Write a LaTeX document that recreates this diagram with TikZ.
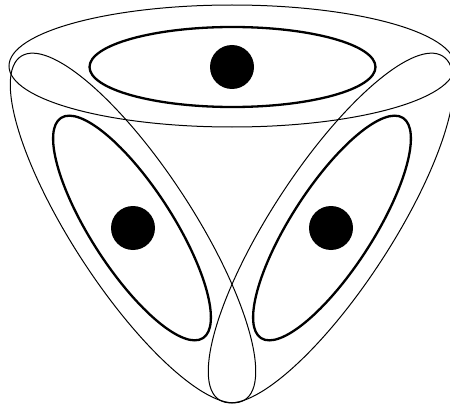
\documentclass[tikz,border=0pt]{standalone}
\begin{document}
\begin{tikzpicture}[x=1pt,y=1pt,
  thinedge/.style={line width=1pt},
  thickedge/.style={line width=2.3pt},
  vertex/.style={circle,fill=black,minimum size=44pt,inner sep=0pt}]
\useasboundingbox (0,0) rectangle (450,408);
\clip (0,0) rectangle (450,408);
% outer (thin) ellipses
\draw[thinedge] (232,342) ellipse [x radius=223pt, y radius=61pt];
\draw[thinedge, rotate around={-56.9:(133,180)}] (133,180) ellipse [x radius=205pt, y radius=60pt];
\draw[thinedge, rotate around={56.9:(331,180)}] (331,180) ellipse [x radius=205pt, y radius=60pt];
% inner (thick) ellipses
\draw[thickedge] (232.5,341) ellipse [x radius=143pt, y radius=40pt];
\draw[thickedge, rotate around={-57.2:(132,180)}] (132,180) ellipse [x radius=131pt, y radius=41pt];
\draw[thickedge, rotate around={57.2:(332,180)}] (332,180) ellipse [x radius=131pt, y radius=41pt];
% vertices
\node[vertex] (top) at (232,341) {};
\node[vertex] (left) at (133,180) {};
\node[vertex] (right) at (331,180) {};
\end{tikzpicture}
\end{document}
